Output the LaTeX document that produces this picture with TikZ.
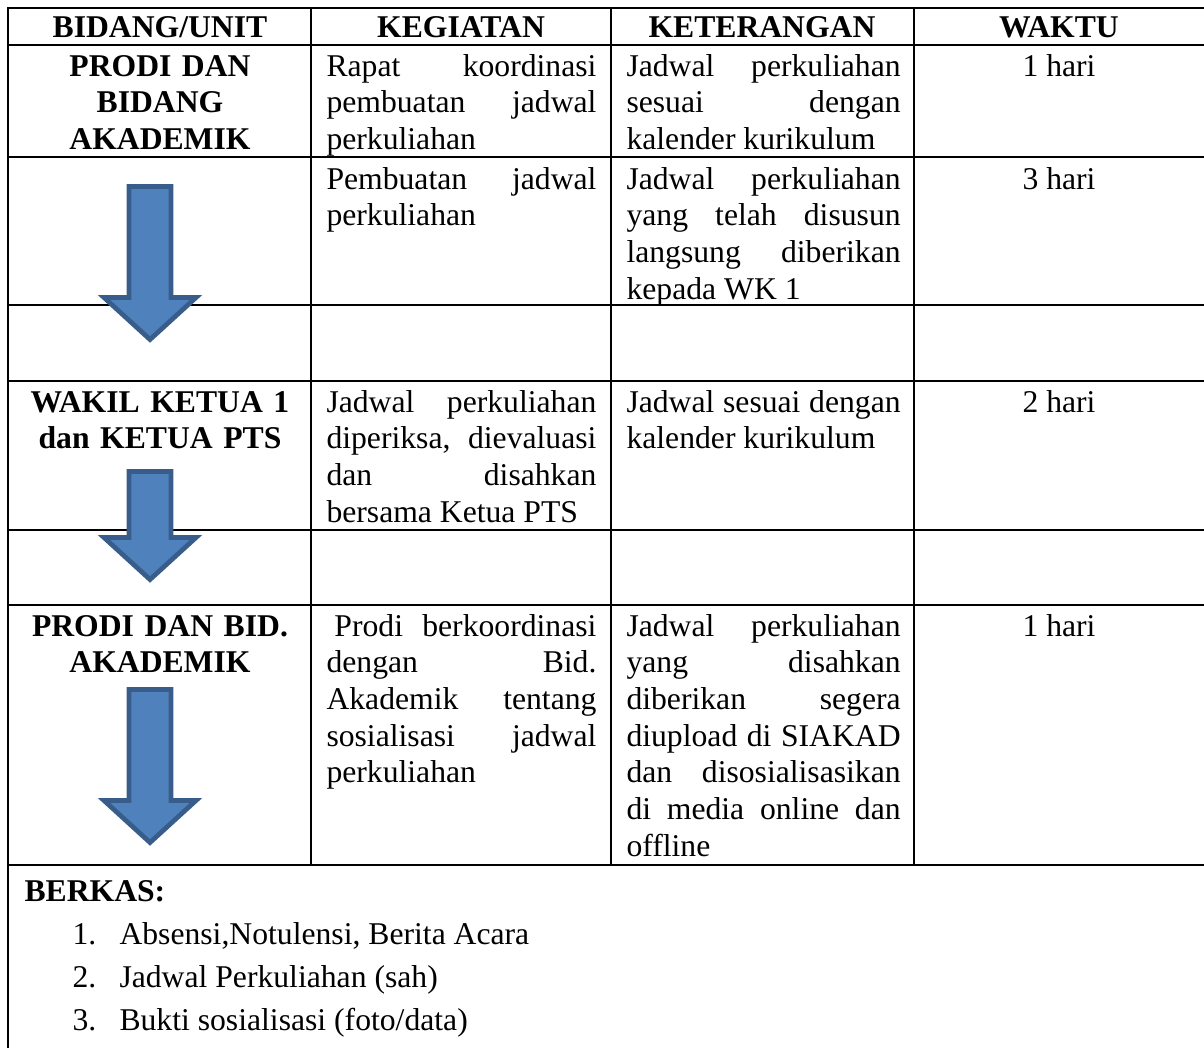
\documentclass[tikz,border=0pt]{standalone}
\usepackage{fontspec}
\setmainfont{Liberation Serif}
\usepackage{xcolor}
\usepackage{tikz}

\definecolor{arrowfill}{HTML}{4F81BD}
\definecolor{arrowline}{HTML}{385D8A}

\begin{document}
\begin{tikzpicture}[x=0.379pt,y=-0.379pt,
                    every node/.style={inner sep=0pt,font=\fontsize{12}{13.9}\selectfont},
                    head node/.style={anchor=base,font=\fontsize{12}{13.9}\selectfont\bfseries},
                    unit node/.style={anchor=base,text width=104pt,align=center,font=\fontsize{12}{13.9}\selectfont\bfseries},
                    keg node/.style={anchor=base west,text width=102.3pt,align=justify},
                    ket node/.style={anchor=base west,text width=103.9pt,align=justify},
                    waktu node/.style={anchor=base},
                    grid line/.style={line width=1pt},
                    flow arrow/.style={fill=arrowfill,draw=arrowline,line width=1.8pt,line join=miter}]

 \useasboundingbox (0,0) rectangle (1204,1048);

 % table rules
 \draw[grid line] (8,1048) -- (8,8) -- (1210,8);
 \draw[grid line] (8,45) -- (1210,45) (8,157) -- (1210,157) (8,305) -- (1210,305)
                  (8,381) -- (1210,381) (8,530) -- (1210,530) (8,605) -- (1210,605)
                  (8,865) -- (1210,865);
 \draw[grid line] (311,8) -- (311,865) (611,8) -- (611,865) (914,8) -- (914,865);

 % header
 \node[head node] (hunit) at (160,37) {BIDANG/UNIT};
 \node[head node] (hkeg) at (461,37) {KEGIATAN};
 \node[head node] (hket) at (762,37) {KETERANGAN};
 \node[head node] (hwaktu) at (1059,37) {WAKTU};

 % row 1
 \node[unit node] (unit1) at (160,76) {PRODI DAN\\BIDANG\\AKADEMIK};
 \node[keg node] (keg1) at (326,76) {Rapat koordinasi\linebreak pembuatan jadwal\linebreak perkuliahan};
 \node[ket node] (ket1) at (626,76) {Jadwal perkuliahan\linebreak sesuai dengan\linebreak kalender kurikulum};
 \node[waktu node] (waktu1) at (1059,76) {1 hari};

 % row 2
 \node[keg node] (keg2) at (326,189) {Pembuatan jadwal\linebreak perkuliahan};
 \node[ket node] (ket2) at (626,189) {Jadwal perkuliahan\linebreak yang telah disusun\linebreak langsung diberikan\linebreak kepada WK 1};
 \node[waktu node] (waktu2) at (1059,189) {3 hari};

 % row 4
 \node[unit node] (unit2) at (160,412) {WAKIL KETUA 1\\dan KETUA PTS};
 \node[keg node] (keg3) at (326,412) {Jadwal perkuliahan\linebreak diperiksa, dievaluasi\linebreak dan disahkan\linebreak bersama Ketua PTS};
 \node[ket node] (ket3) at (626,412) {Jadwal sesuai dengan\linebreak kalender kurikulum};
 \node[waktu node] (waktu3) at (1059,412) {2 hari};

 % row 6
 \node[unit node] (unit3) at (160,636) {PRODI DAN BID.\\AKADEMIK};
 \node[keg node] (keg4) at (326,636) {\hspace*{.25em}Prodi berkoordinasi\linebreak dengan Bid.\linebreak Akademik tentang\linebreak sosialisasi jadwal\linebreak perkuliahan};
 \node[ket node] (ket4) at (626,636) {Jadwal perkuliahan\linebreak yang disahkan\linebreak diberikan segera\linebreak diupload di SIAKAD\linebreak dan disosialisasikan\linebreak di media online dan\linebreak offline};
 \node[waktu node] (waktu4) at (1059,636) {1 hari};

 % berkas
 \node[anchor=base west,font=\fontsize{12}{13.9}\selectfont\bfseries] (berkas) at (24,901) {BERKAS:};
 \node[anchor=base west] (no1) at (72,944) {1.};
 \node[anchor=base west] (item1) at (119,944) {Absensi,Notulensi, Berita Acara};
 \node[anchor=base west] (no2) at (72,987) {2.};
 \node[anchor=base west] (item2) at (119,987) {Jadwal Perkuliahan (sah)};
 \node[anchor=base west] (no3) at (72,1030) {3.};
 \node[anchor=base west] (item3) at (119,1030) {Bukti sosialisasi (foto/data)};

 % flow arrows
 \draw[flow arrow] (129,186.5) -- (171,186.5) -- (171,297.5) -- (196,297.5) -- (150,339.5)
                   -- (104,297.5) -- (129,297.5) -- cycle;
 \draw[flow arrow] (129,471.5) -- (171,471.5) -- (171,537.5) -- (196,537.5) -- (150,579.5)
                   -- (104,537.5) -- (129,537.5) -- cycle;
 \draw[flow arrow] (129,689.5) -- (171,689.5) -- (171,800.5) -- (196,800.5) -- (150,842.5)
                   -- (104,800.5) -- (129,800.5) -- cycle;

\end{tikzpicture}
\end{document}
